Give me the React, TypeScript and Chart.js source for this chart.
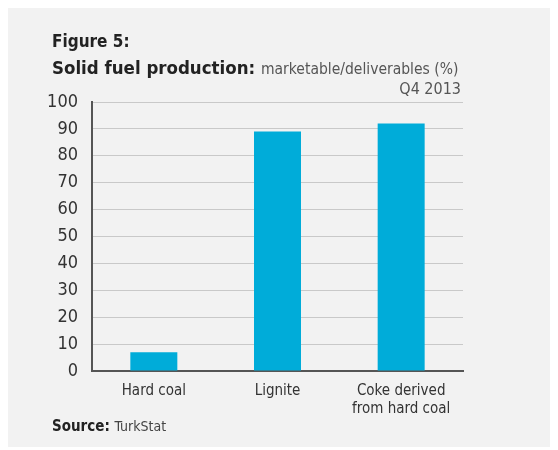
import React, { useEffect, useRef } from "react";
import { Chart, registerables } from "chart.js";

Chart.register(...registerables);

const categories: (string | string[])[] = ["Hard coal", "Lignite", ["Coke derived", "from hard coal"]];
const values: number[] = [7, 89, 92];
const yTicks: number[] = [0, 10, 20, 30, 40, 50, 60, 70, 80, 90, 100];

const NARROW = '"Liberation Sans Narrow", "DejaVu Sans Condensed", "Roboto", sans-serif';
const BOLD = '"Liberation Sans Narrow", "DejaVu Sans Condensed", sans-serif';

export default function App() {
  const ref = useRef<HTMLCanvasElement | null>(null);

  useEffect(() => {
    if (!ref.current) return;
    const chart = new Chart(ref.current, {
      type: "bar",
      data: {
        labels: categories,
        datasets: [
          {
            data: values,
            backgroundColor: "#00acd9",
            borderWidth: 0,
            barPercentage: 0.38,
            categoryPercentage: 1,
          },
        ],
      },
      options: {
        animation: false,
        responsive: false,
        maintainAspectRatio: false,
        layout: { padding: { left: 0, right: 95, top: 95, bottom: 0 } },
        plugins: { legend: { display: false }, tooltip: { enabled: false }, title: { display: false } },
        scales: {
          x: {
            grid: { display: false, drawTicks: false },
            border: { color: "#555", width: 2 },
            ticks: {
              color: "#333",
              font: { family: NARROW, size: 15 },
              padding: 11,
              maxRotation: 0,
            },
            afterFit: (s: any) => {
              s.height = 76;
            },
          },
          y: {
            min: 0,
            max: 100,
            afterBuildTicks: (s: any) => {
              s.ticks = yTicks.map((v) => ({ value: v }));
            },
            grid: { color: "#c9c9c9", lineWidth: 1, drawTicks: false },
            border: { color: "#555", width: 2 },
            ticks: {
              color: "#333",
              font: { family: NARROW, size: 18 },
              padding: 14,
            },
            afterFit: (s: any) => {
              s.width = 84;
            },
          },
        },
      },
    });
    return () => chart.destroy();
  }, []);

  return (
    <div style={{ position: "relative", width: 550, height: 440, background: "#f2f2f2", marginTop: -1 }}>
      <canvas ref={ref} width={550} height={440} style={{ position: "absolute", left: 0, top: 0 }} />
      <div style={{ position: "absolute", left: 44, top: 24, fontFamily: BOLD, fontWeight: "bold", fontSize: 17, color: "#222" }}>
        Figure 5:
      </div>
      <div style={{ position: "absolute", left: 44, top: 50, fontFamily: BOLD, fontSize: 18.5, color: "#222", whiteSpace: "nowrap" }}>
        <span style={{ fontWeight: "bold" }}>Solid fuel production: </span>
        <span style={{ fontSize: 15.5, color: "#555" }}>marketable/deliverables (%)</span>
      </div>
      <div style={{ position: "absolute", right: 97, top: 72, fontFamily: NARROW, fontSize: 16, color: "#555" }}>
        Q4 2013
      </div>
      <div style={{ position: "absolute", left: 44, top: 410, fontFamily: BOLD, fontSize: 15, color: "#222", whiteSpace: "nowrap" }}>
        <span style={{ fontWeight: "bold" }}>Source: </span>
        <span style={{ fontSize: 14, color: "#444" }}>TurkStat</span>
      </div>
    </div>
  );
}
